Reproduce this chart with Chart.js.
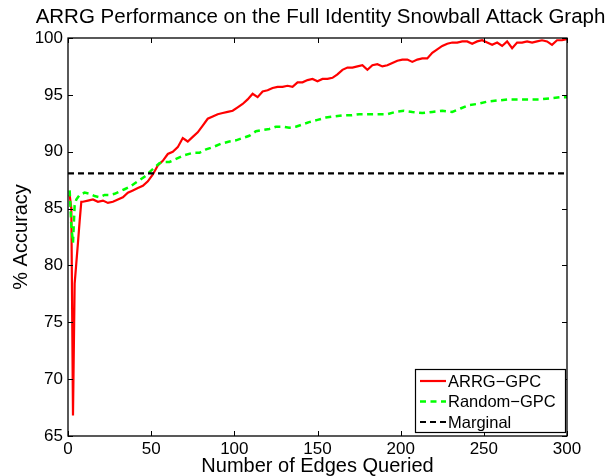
<!DOCTYPE html>
<html>
<head>
<meta charset="utf-8">
<script src="https://cdn.jsdelivr.net/npm/chart.js@4.4.1/dist/chart.umd.min.js"></script>
<style>
html,body{margin:0;padding:0;background:#fff;}
#wrap{width:610px;height:476px;}
</style>
</head>
<body>
<div id="wrap"><canvas id="c" width="610" height="476"></canvas></div>
<script>
const chartTitle = "ARRG Performance on the Full Identity Snowball Attack Graph";
const xTitle = "Number of Edges Queried";
const yTitle = "% Accuracy";
const xTicks = [0, 50, 100, 150, 200, 250, 300];
const yTicks = [65, 70, 75, 80, 85, 90, 95, 100];
const seriesNames = ["ARRG\u2212GPC", "Random\u2212GPC", "Marginal"];

const arrgEdges = [1,2,3,4,5,6,7,8,9,12,15,18,21,24,27,30,33,36,39,42,45,48,51,54,57,60,63,66,69,72,75,78,81,84,87,90,93,96,99,102,105,108,111,114,117,120,123,126,129,132,135,138,141,144,147,150,153,156,159,162,165,168,171,174,177,180,183,186,189,192,195,198,201,204,207,210,213,216,219,222,225,228,231,234,237,240,243,246,249,252,255,258,261,264,267,270,273,276,279,282,285,288,291,294,297,300];
const arrgAcc = [86.2,85.0,66.8,78.4,80.2,82.0,83.9,85.6,85.6,85.7,85.8,85.6,85.7,85.5,85.6,85.8,86.0,86.4,86.6,86.8,87.0,87.4,88.0,88.8,89.2,89.8,90.0,90.4,91.2,90.9,91.3,91.7,92.3,92.9,93.1,93.3,93.4,93.5,93.6,93.9,94.2,94.6,95.1,94.8,95.3,95.4,95.6,95.7,95.7,95.8,95.7,96.1,96.1,96.3,96.4,96.2,96.4,96.4,96.5,96.8,97.2,97.4,97.4,97.5,97.6,97.2,97.6,97.7,97.5,97.6,97.8,98.0,98.1,98.1,97.9,98.1,98.2,98.2,98.7,99.0,99.3,99.5,99.6,99.6,99.7,99.7,99.5,99.7,99.8,99.6,99.4,99.6,99.3,99.7,99.1,99.6,99.6,99.7,99.6,99.7,99.8,99.7,99.4,99.8,99.8,99.9];

const randomEdges = [1,2,3,4,5,7,10,13,16,19,22,25,28,31,34,37,40,43,46,49,52,55,58,61,64,67,70,75,79,83,87,92,97,101,105,109,113,117,121,125,129,133,137,141,145,150,155,160,165,170,175,180,186,192,197,202,207,213,219,225,231,236,241,246,252,258,265,272,278,284,290,296,300];
const randomAcc = [86.6,83.5,82.0,85.3,85.8,86.2,86.4,86.3,86.1,86.0,86.2,86.2,86.3,86.5,86.7,86.9,87.2,87.5,87.8,88.2,88.6,89.0,89.1,89.1,89.3,89.5,89.7,89.9,89.9,90.2,90.4,90.7,90.9,91.0,91.2,91.4,91.8,91.9,92.0,92.2,92.2,92.1,92.2,92.4,92.6,92.8,93.0,93.1,93.2,93.2,93.3,93.3,93.3,93.3,93.5,93.6,93.5,93.4,93.5,93.6,93.5,93.8,94.1,94.2,94.4,94.5,94.6,94.6,94.6,94.6,94.7,94.8,94.8];

const marginalEdges = [0, 300];
const marginalAcc = [88.1, 88.1];

const FONT = "'Liberation Sans', Arial, Helvetica, sans-serif";

function pts(xs, ys){ return xs.map((x,i)=>({x:x, y:ys[i]})); }

const frame = {
  id: 'frame',
  afterDatasetsDraw(chart){
    const {ctx, chartArea:a, scales} = chart;
    ctx.save();
    // title, centred over the plot area
    ctx.fillStyle = '#000';
    ctx.font = "20.5px " + FONT;
    ctx.textAlign = 'center';
    ctx.textBaseline = 'middle';
    ctx.fillText(chartTitle, (a.left + a.right) / 2 + 3, 17);
    ctx.textAlign = 'left';

    ctx.strokeStyle = '#000';
    ctx.lineWidth = 1.3;
    ctx.strokeRect(a.left, a.top, a.right - a.left, a.bottom - a.top);
    const tl = 5;
    ctx.beginPath();
    xTicks.forEach(v=>{
      const px = Math.round(scales.x.getPixelForValue(v)) + 0.5;
      ctx.moveTo(px, a.bottom); ctx.lineTo(px, a.bottom - tl);
      ctx.moveTo(px, a.top); ctx.lineTo(px, a.top + tl);
    });
    yTicks.forEach(v=>{
      const py = Math.round(scales.y.getPixelForValue(v)) + 0.5;
      ctx.moveTo(a.left, py); ctx.lineTo(a.left + tl, py);
      ctx.moveTo(a.right, py); ctx.lineTo(a.right - tl, py);
    });
    ctx.lineWidth = 1;
    ctx.stroke();

    // legend
    const bx = a.right - 152, by = a.bottom - 67, bw = 150, bh = 63;
    ctx.fillStyle = '#fff';
    ctx.fillRect(bx, by, bw, bh);
    ctx.lineWidth = 1.2;
    ctx.strokeRect(bx + 0.5, by + 0.5, bw, bh);
    ctx.font = "16.5px " + FONT;
    ctx.textBaseline = 'middle';
    chart.data.datasets.forEach((ds, i)=>{
      const y = by + 12 + i * 20.5;
      ctx.beginPath();
      ctx.strokeStyle = ds.borderColor;
      ctx.lineWidth = ds.borderWidth;
      ctx.setLineDash(ds.borderDash || []);
      ctx.moveTo(bx + 5, y); ctx.lineTo(bx + 31, y);
      ctx.stroke();
      ctx.setLineDash([]);
      ctx.fillStyle = '#000';
      ctx.fillText(ds.label, bx + 33, y + 1);
    });
    ctx.restore();
  }
};

new Chart(document.getElementById('c'), {
  type: 'line',
  data: {
    datasets: [
      {label: seriesNames[0], data: pts(arrgEdges, arrgAcc), borderColor: '#ff0000', borderWidth: 2.2, pointRadius: 0, tension: 0, order: 3},
      {label: seriesNames[1], data: pts(randomEdges, randomAcc), borderColor: '#00ff00', borderWidth: 2.5, borderDash: [6, 4.5], pointRadius: 0, tension: 0, order: 2},
      {label: seriesNames[2], data: pts(marginalEdges, marginalAcc), borderColor: '#000000', borderWidth: 2.2, borderDash: [6, 4], pointRadius: 0, tension: 0, order: 1}
    ]
  },
  options: {
    responsive: false,
    animation: false,
    events: [],
    layout: {padding: {left: 0, right: 43, top: 38, bottom: 0}},
    plugins: {
      legend: {display: false},
      tooltip: {enabled: false},
      title: {display: false}
    },
    scales: {
      x: {
        type: 'linear', min: 0, max: 300,
        afterBuildTicks: s => { s.ticks = xTicks.map(v=>({value:v})); },
        grid: {display: false, drawTicks: false},
        border: {display: false},
        ticks: {color: '#000', font: {family: FONT, size: 17}, padding: 3, maxRotation: 0, autoSkip: false},
        title: {display: true, text: xTitle, color: '#000', font: {family: FONT, size: 20, lineHeight: 1}, padding: {top: 0, bottom: 0}},
        afterFit: s => { s.height = 40; }
      },
      y: {
        type: 'linear', min: 65, max: 100,
        afterBuildTicks: s => { s.ticks = yTicks.map(v=>({value:v})); },
        grid: {display: false, drawTicks: false},
        border: {display: false},
        ticks: {color: '#000', font: {family: FONT, size: 17}, padding: 5, autoSkip: false},
        title: {display: true, text: yTitle, color: '#000', font: {family: FONT, size: 20, lineHeight: 1}, padding: {top: 11, bottom: 4}},
        afterFit: s => { s.width = 68; }
      }
    }
  },
  plugins: [frame]
});
</script>
</body>
</html>
